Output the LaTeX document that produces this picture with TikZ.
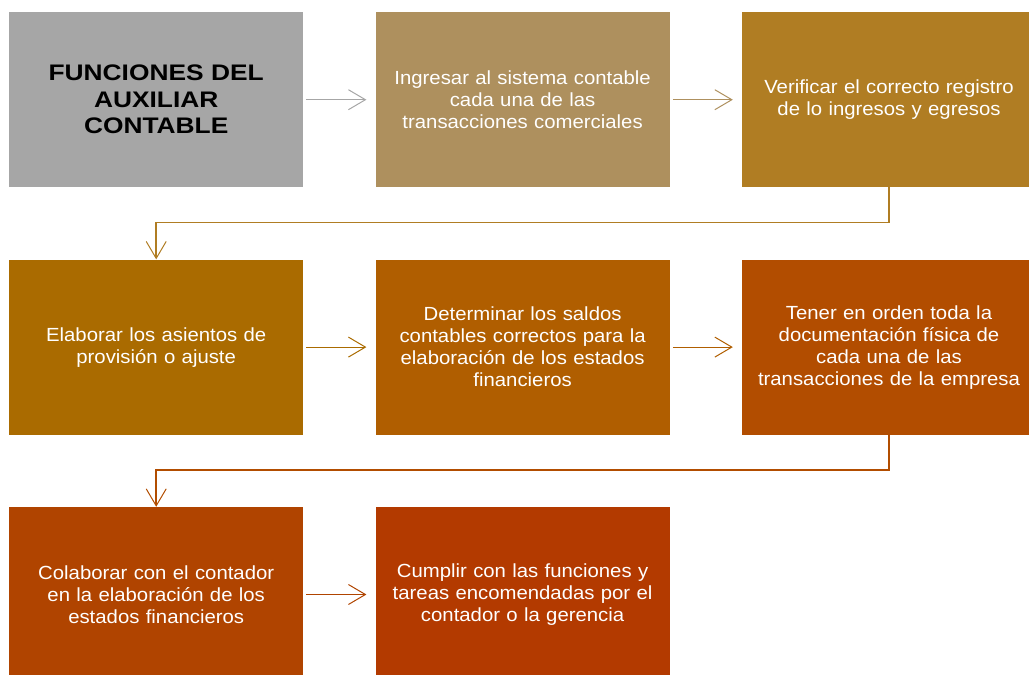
\documentclass[tikz,border=0pt]{standalone}
\usepackage{fontspec}
\setmainfont{Liberation Sans}
\newfontfamily\ancho[FakeStretch=1.07, WordSpace=1.6]{Liberation Sans}
\newfontfamily\anchonegro[FakeStretch=1.17, WordSpace=1.2]{Liberation Sans Bold}
\usetikzlibrary{positioning, arrows.meta}
\definecolor{gris}{HTML}{A6A6A6}
\definecolor{tostado}{HTML}{AE905E}
\definecolor{ocre}{HTML}{B07D23}
\definecolor{mostaza}{HTML}{AA6B00}
\definecolor{naranja}{HTML}{B05E00}
\definecolor{teja}{HTML}{B24D00}
\definecolor{ladrillo}{HTML}{B04400}
\definecolor{rojizo}{HTML}{B33A00}
\tikzstyle{caja} = [rectangle, minimum width=294pt, minimum height=175pt, text width=290pt, inner xsep=2pt, inner ysep=0pt, align=center, text=white, font=\ancho\fontsize{19pt}{22pt}\selectfont]
\tikzstyle{titulo} = [caja, text=black, font=\anchonegro\fontsize{22.5pt}{26.5pt}\selectfont]
\tikzstyle{flecha} = [line width=1pt, -{Straight Barb[length=17pt,width=20pt,line width=1pt]}]

\begin{document}
\begin{tikzpicture}[x=1pt, y=1pt]
    \useasboundingbox (0,0) rectangle (1029,-675);
    \clip (0,0) rectangle (1029,-675);
        \node (tit) [titulo, fill=gris, anchor=north west] at (9,-12) {FUNCIONES DEL\\AUXILIAR\\CONTABLE};
        \node (ing) [caja, fill=tostado, right=72pt of tit] {Ingresar al sistema contable\\cada una de las\\transacciones comerciales};
        \node (ver) [caja, fill=ocre, right=72pt of ing] {Verificar el correcto registro\\de lo ingresos y egresos\\[22pt]};
        \node (ela) [caja, fill=mostaza, below=72pt of tit] {Elaborar los asientos de\\provisi\'on o ajuste};
        \node (det) [caja, fill=naranja, right=72pt of ela] {Determinar los saldos\\contables correctos para la\\elaboraci\'on de los estados\\financieros};
        \node (ten) [caja, fill=teja, right=72pt of det] {Tener en orden toda la\\documentaci\'on f\'isica de\\cada una de las\\transacciones de la empresa};
        \node (col) [caja, fill=ladrillo, below=72pt of ela] {Colaborar con el contador\\en la elaboraci\'on de los\\estados financieros};
        \node (cum) [caja, fill=rojizo, right=72pt of col] {Cumplir con las funciones y\\tareas encomendadas por el\\contador o la gerencia};

        \draw [flecha, gris] ([xshift=3pt]tit.east) -- ([xshift=-9pt]ing.west);
        \draw [flecha, tostado] ([xshift=3pt]ing.east) -- ([xshift=-9pt]ver.west);
        \draw [flecha, ocre, line width=1.5pt] (ver.south) -- ++(0,-35) -| (ela.north);
        \draw [flecha, mostaza] ([xshift=3pt]ela.east) -- ([xshift=-9pt]det.west);
        \draw [flecha, naranja] ([xshift=3pt]det.east) -- ([xshift=-9pt]ten.west);
        \draw [flecha, teja, line width=1.5pt] (ten.south) -- ++(0,-35) -| (col.north);
        \draw [flecha, ladrillo] ([xshift=3pt]col.east) -- ([xshift=-9pt]cum.west);
\end{tikzpicture}
\end{document}
